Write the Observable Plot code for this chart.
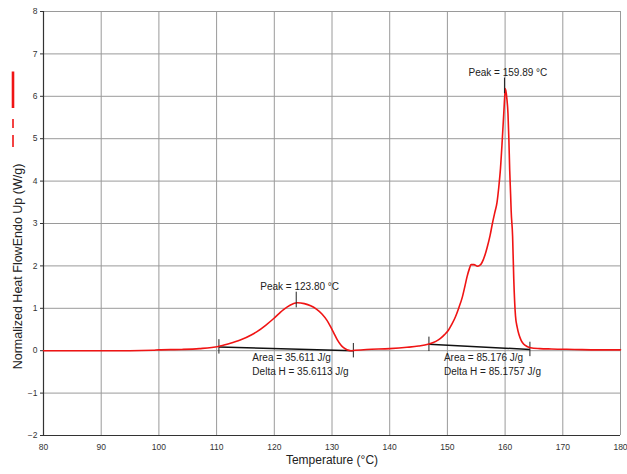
<!DOCTYPE html>
<html>
<head>
<meta charset="utf-8">
<script src="https://cdn.jsdelivr.net/npm/d3@7"></script>
<script src="https://cdn.jsdelivr.net/npm/@observablehq/plot@0.6"></script>
<style>
  html, body { margin: 0; padding: 0; background: #fff; }
  #chart { width: 627px; height: 474px; }
</style>
</head>
<body>
<div id="chart"></div>
<script>
// ---- data ----
const temps = [80, 90, 95, 99, 100, 104, 107, 110.3, 112, 114.1, 116, 117, 118.5, 119.9, 121, 121.6, 122.8, 124.0, 125.2, 126.3, 127.3, 128.3, 129.1, 129.7, 130.3, 130.9, 131.5, 132.0, 132.6, 133.2, 134, 136, 140, 143, 145, 146.8, 148, 148.8, 149.5, 150.2, 150.8, 151.4, 152, 152.6, 153.0, 153.4, 153.8, 154.1, 154.6, 155.2, 155.6, 156.0, 156.5, 156.9, 157.4, 157.8, 158.2, 158.6, 158.9, 159.2, 159.5, 159.8, 160.05, 160.3, 160.5, 160.65, 160.8, 160.95, 161.05, 161.3, 161.5, 161.8, 162.1, 162.4, 162.8, 163.2, 163.8, 164.4, 166, 168, 172, 176, 180];
const heatFlow = [0.00, 0.00, 0.00, 0.01, 0.02, 0.03, 0.05, 0.10, 0.16, 0.25, 0.37, 0.45, 0.60, 0.76, 0.90, 0.97, 1.08, 1.13, 1.11, 1.06, 0.98, 0.86, 0.72, 0.58, 0.42, 0.26, 0.14, 0.07, 0.02, 0.00, 0.01, 0.03, 0.05, 0.08, 0.11, 0.16, 0.22, 0.29, 0.38, 0.49, 0.63, 0.80, 1.02, 1.27, 1.50, 1.74, 1.93, 2.03, 2.03, 1.99, 2.01, 2.08, 2.25, 2.44, 2.72, 3.00, 3.25, 3.50, 3.85, 4.30, 4.95, 5.67, 6.18, 5.95, 5.59, 5.00, 4.25, 3.70, 3.30, 2.70, 1.70, 0.82, 0.55, 0.38, 0.24, 0.16, 0.10, 0.07, 0.05, 0.04, 0.03, 0.02, 0.02];

// integration baselines (start/end temperature and heat flow)
const baselineX1 = [110.4, 146.8];
const baselineY1 = [0.09, 0.15];
const baselineX2 = [133.7, 164.3];
const baselineY2 = [0.00, 0.03];

// peaks
const peakTemps = [123.8, 159.89];
const peakValues = [1.13, 6.18];
const peakLabels = ["Peak = 123.80 °C", "Peak = 159.89 °C"];
const areaLabels = ["Area = 35.611 J/g", "Area = 85.176 J/g"];
const deltaLabels = ["Delta H = 35.6113 J/g", "Delta H = 85.1757 J/g"];
const labelTemps = [116.2, 149.4];

const xTicks = [80, 90, 100, 110, 120, 130, 140, 150, 160, 170, 180];
const yTicks = [-2, -1, 0, 1, 2, 3, 4, 5, 6, 7, 8];

const xLabel = "Temperature (°C)";
const yLabel = "Normalized Heat FlowEndo Up (W/g)";

// ---- derived tables ----
const curve = temps.map((t, i) => ({t, v: heatFlow[i]}));
const baselines = baselineX1.map((x, i) => ({x1: x, y1: baselineY1[i], x2: baselineX2[i], y2: baselineY2[i]}));
const endMarks = baselines.flatMap(b => [{x: b.x1, y: b.y1}, {x: b.x2, y: b.y2}]);
const peaks = peakTemps.map((t, i) => ({t, v: peakValues[i], label: peakLabels[i], area: areaLabels[i], delta: deltaLabels[i], lx: labelTemps[i]}));

const font = "'Liberation Sans', Arial, sans-serif";

const chart = Plot.plot({
  width: 627,
  height: 474,
  marginLeft: 43,
  marginRight: 7,
  marginTop: 11,
  marginBottom: 39,
  style: {fontFamily: font, fontSize: "8.5px", color: "#222", background: "#fff"},
  x: {domain: [80, 180]},
  y: {domain: [-2, 8]},
  marks: [
    Plot.gridX(xTicks, {stroke: "#9a9a9a", strokeOpacity: 1, strokeWidth: 1}),
    Plot.gridY(yTicks, {stroke: "#9a9a9a", strokeOpacity: 1, strokeWidth: 1}),
    Plot.axisX({ticks: xTicks, tickSize: 0, tickPadding: 8, label: null, fill: "#333"}),
    Plot.axisY({ticks: yTicks, tickSize: 3, tickPadding: 3, label: null, fill: "#333", stroke: "#333"}),
    Plot.ruleX([80], {stroke: "#333", strokeWidth: 1.2}),
    Plot.ruleY([-2], {stroke: "#333", strokeWidth: 1.2}),
    // baselines
    Plot.link(baselines, {x1: "x1", y1: "y1", x2: "x2", y2: "y2", stroke: "#111", strokeWidth: 1.5}),
    Plot.ruleX(endMarks, {x: "x", y1: d => d.y - 0.17, y2: d => d.y + 0.17, stroke: "#222", strokeWidth: 1}),
    // curve
    Plot.line(curve, {x: "t", y: "v", stroke: "#f01414", strokeWidth: 1.6, curve: "monotone-x"}),
    // peak markers
    Plot.ruleX(peaks, {x: "t", y1: d => d.v - 0.12, y2: d => d.v + 0.25, stroke: "#222", strokeWidth: 1}),
    Plot.text(peaks, {x: d => d.t + 0.6, y: d => d.v + 0.3, text: "label", lineAnchor: "bottom", fontSize: 10, fill: "#222"}),
    Plot.text(peaks, {x: "lx", y: -0.17, text: "area", textAnchor: "start", fontSize: 10, fill: "#222"}),
    Plot.text(peaks, {x: "lx", y: -0.5, text: "delta", textAnchor: "start", fontSize: 10, fill: "#222"}),
    // axis titles
    Plot.text([xLabel], {frameAnchor: "bottom", dy: 28, text: d => d, fontSize: 12, fill: "#222"}),
    Plot.text([yLabel], {frameAnchor: "left", textAnchor: "middle", dx: -26, dy: 43, rotate: -90, text: d => d, fontSize: 12.5, fill: "#222"})
  ]
});

// legend swatch beside the y title
const svg = d3.select(chart);
const sw = [
  {y1: 71.5, y2: 108, w: 2.6},
  {y1: 119, y2: 128, w: 1.6},
  {y1: 135, y2: 147, w: 1.6}
];
svg.append("g").selectAll("line").data(sw).join("line")
  .attr("x1", 13).attr("x2", 13)
  .attr("y1", d => d.y1).attr("y2", d => d.y2)
  .attr("stroke", "#f01414").attr("stroke-width", d => d.w);

document.getElementById("chart").appendChild(chart);
</script>
</body>
</html>
